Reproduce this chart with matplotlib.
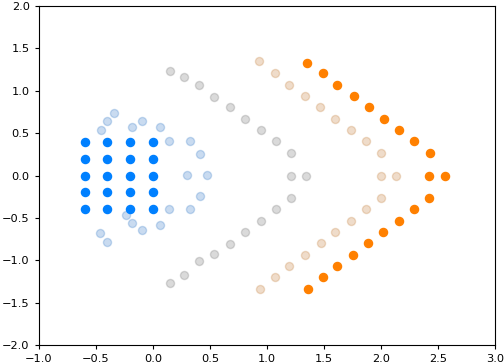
import matplotlib
matplotlib.use("Agg")
import matplotlib.pyplot as plt

# Dark blue grid
blue_x = [-0.6, -0.4, -0.2, 0.0] * 5
blue_y = [0.4] * 4 + [0.2] * 4 + [0.0] * 4 + [-0.2] * 4 + [-0.4] * 4

# Light blue
lblue_x = [-0.342, -0.404, -0.453, -0.182, -0.099, 0.061, 0.140, 0.328, 0.410, 0.295, 0.474,
           0.410, 0.328, 0.140, 0.061, -0.099, -0.182, -0.237, -0.462, -0.404]
lblue_y = [0.741, 0.643, 0.533, 0.569, 0.647, 0.576, 0.403, 0.403, 0.254, 0.006, 0.006,
           -0.246, -0.399, -0.399, -0.581, -0.640, -0.557, -0.463, -0.675, -0.788]

# Grey
grey_x = [0.149, 0.269, 0.406, 0.535, 0.673, 0.810, 0.944, 1.079, 1.213, 1.213, 1.339,
          1.213, 1.079, 0.944, 0.810, 0.673, 0.535, 0.406, 0.269, 0.149]
grey_y = [1.237, 1.166, 1.064, 0.926, 0.805, 0.663, 0.533, 0.403, 0.262, -0.006, -0.006,
          -0.262, -0.399, -0.537, -0.667, -0.808, -0.923, -1.012, -1.178, -1.265]

# Tan
tan_x = [0.930, 1.067, 1.196, 1.333, 1.462, 1.599, 1.734, 1.865, 2.003, 2.003, 2.129,
         2.003, 1.865, 1.734, 1.599, 1.471, 1.333, 1.196, 1.067, 0.939]
tan_y = [1.347, 1.206, 1.064, 0.934, 0.805, 0.663, 0.533, 0.403, 0.262, -0.006, -0.006,
         -0.262, -0.399, -0.537, -0.667, -0.796, -0.934, -1.068, -1.198, -1.336]

# Orange
orange_x = [1.351, 1.488, 1.614, 1.763, 1.892, 2.026, 2.158, 2.289, 2.427, 2.421, 2.559,
            2.421, 2.289, 2.158, 2.015, 1.889, 1.754, 1.614, 1.488, 1.360]
orange_y = [1.331, 1.206, 1.064, 0.934, 0.805, 0.663, 0.533, 0.403, 0.262, -0.006, -0.006,
            -0.262, -0.399, -0.537, -0.667, -0.796, -0.934, -1.068, -1.198, -1.336]

fig = plt.figure(figsize=(5.04, 3.64), dpi=100)
ax = fig.add_axes([0.0774, 0.0522, 0.9048, 0.9313])

s = 34
ax.scatter(lblue_x, lblue_y, s=s, color="#3E80CA", alpha=0.28)
ax.scatter(grey_x, grey_y, s=s, color="#7A7A7A", alpha=0.28)
ax.scatter(tan_x, tan_y, s=s, color="#C68441", alpha=0.28)
ax.scatter(blue_x, blue_y, s=s, color="#0080FF")
ax.scatter(orange_x, orange_y, s=s, color="#FF8000")

ax.set_xlim(-1.0, 3.0)
ax.set_ylim(-2.0, 2.0)
ax.set_xticks([-1.0, -0.5, 0.0, 0.5, 1.0, 1.5, 2.0, 2.5, 3.0])
ax.set_yticks([-2.0, -1.5, -1.0, -0.5, 0.0, 0.5, 1.0, 1.5, 2.0])
ax.tick_params(labelsize=8.2, length=3.2)

fig.savefig("out.png", dpi=100)
